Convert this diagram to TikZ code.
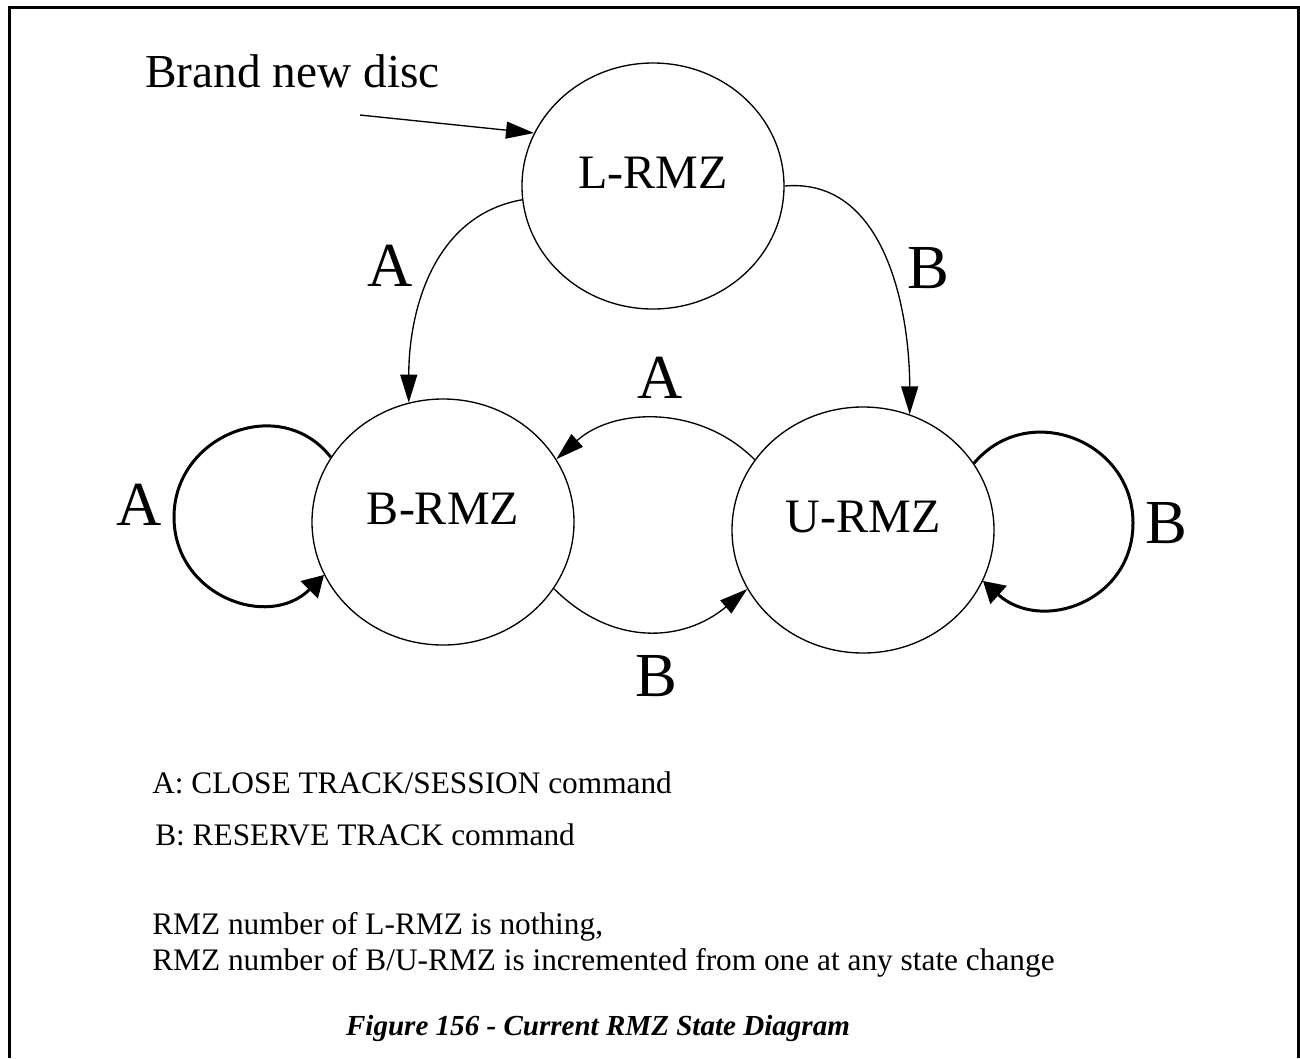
\documentclass[tikz,border=0pt]{standalone}
\usepackage{fontspec}
\setmainfont{Liberation Serif}
\usetikzlibrary{arrows.meta,shapes.geometric}

\begin{document}
\begin{tikzpicture}[x=0.75pt,y=-0.75pt,
  state/.style={draw,ellipse,line width=1pt,minimum width=196.5pt,minimum height=184.5pt,
    inner sep=0pt,text depth=19.5pt,font=\fontsize{36}{40}\selectfont},
  lbl/.style={inner sep=0pt,font=\fontsize{47}{50}\selectfont},
  note/.style={inner sep=0pt,anchor=base west,font=\fontsize{23.5}{27}\selectfont},
  edge/.style={line width=1pt,-{Triangle[length=21pt,width=12.75pt]}},
  loopedge/.style={line width=2.25pt,-{Triangle[length=15.75pt,width=18pt]}}]
\useasboundingbox (0,0) rectangle (1300,1058);
\draw[line width=2.25pt] (9,1058) -- (9,7) -- (1298,7) -- (1298,1058);
% states
\node[state] (lrmz) at (653,186) {L-RMZ};
\node[state] (brmz) at (443,522) {B-RMZ};
\node[state] (urmz) at (863,530) {U-RMZ};
\node[inner sep=0pt,anchor=base west,font=\fontsize{35.5}{40}\selectfont] (disc) at (145,87) {Brand new disc};
\coordinate (discend) at (360,115);
\coordinate (aleft) at (174,517);
\coordinate (bright) at (1133,523);
% transitions
\draw[edge] (discend) -- (lrmz.156);
\draw[edge] (lrmz.186) to[out=190,in=90] (brmz.106);
\draw[edge] (lrmz.0) to[out=5,in=90] (urmz.68);
\draw[edge] (urmz.147) to[out=135,in=42] (brmz.29);
\draw[edge] (brmz.-31) to[out=-45,in=220,looseness=1.1] (urmz.207);
\draw[loopedge] (brmz.150) to[out=128,in=90,looseness=1.25] (aleft)
  to[out=-90,in=225,looseness=1.25] (brmz.204);
\draw[loopedge] (urmz.31) to[out=50,in=90,looseness=1.25] (bright)
  to[out=-90,in=-42,looseness=1.25] (urmz.-23);
% labels
\node[lbl] (la1) at (390,266) {A};
\node[lbl] (lb1) at (928,268) {B};
\node[lbl] (la2) at (660,378) {A};
\node[lbl] (la3) at (139,505) {A};
\node[lbl] (lb2) at (1166,523) {B};
\node[lbl] (lb3) at (656,676) {B};
% key
\node[note] (keya) at (152,793) {A: CLOSE TRACK/SESSION command};
\node[note] (keyb) at (155,845) {B: RESERVE TRACK command};
\node[note] (rmz1) at (152,934) {RMZ number of L-RMZ is nothing,};
\node[note] (rmz2) at (152,970) {RMZ number of B/U-RMZ is incremented from one at any state change};
\node[inner sep=0pt,anchor=base,font=\fontsize{21.8}{25}\selectfont\bfseries\itshape] (cap) at (598,1035)
  {Figure 156 - Current RMZ State Diagram};
\end{tikzpicture}
\end{document}
